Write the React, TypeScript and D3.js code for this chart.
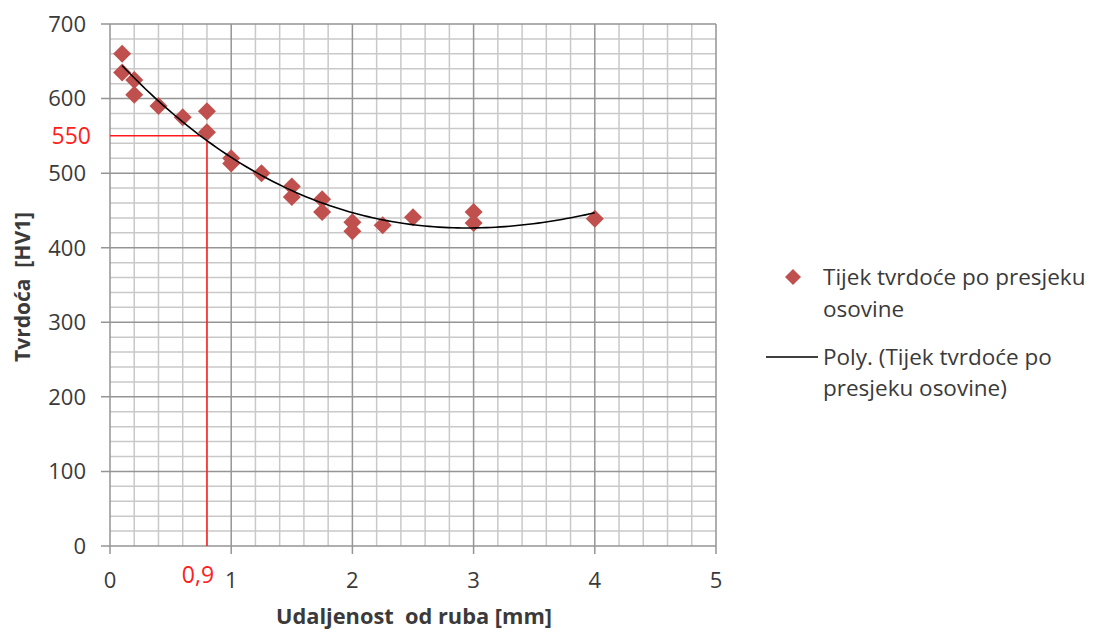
import React from "react";
import * as d3 from "d3";

// ---- data ----
const distance = [0.1, 0.1, 0.2, 0.2, 0.4, 0.6, 0.8, 0.8, 1.0, 1.0, 1.25, 1.5, 1.5, 1.75, 1.75, 2.0, 2.0, 2.25, 2.5, 3.0, 3.0, 4.0];
const hardness = [660, 635, 625, 605, 590, 575, 583, 555, 520, 513, 500, 482, 468, 465, 448, 434, 422, 430, 441, 448, 433, 439];
const xTicks = [0, 1, 2, 3, 4, 5];
const yTicks = [0, 100, 200, 300, 400, 500, 600, 700];
const annotX = 0.8;
const annotY = 550;
const annotXLabel = "0,9";
const annotYLabel = "550";
const seriesName = ["Tijek tvrdoće po presjeku", "osovine"];
const trendName = ["Poly. (Tijek tvrdoće po", "presjeku osovine)"];
const xTitle = "Udaljenost  od ruba [mm]";
const yTitle = "Tvrdoća  [HV1]";

// least-squares polynomial fit (order 3), like Excel's trendline
function polyFit(xs: number[], ys: number[], order: number): number[] {
  const n = order + 1;
  const A: number[][] = [];
  for (let i = 0; i < n; i++) {
    const row: number[] = [];
    for (let j = 0; j < n; j++) row.push(d3.sum(xs, (x) => Math.pow(x, i + j)));
    row.push(d3.sum(xs, (x, k) => Math.pow(x, i) * ys[k]));
    A.push(row);
  }
  for (let c = 0; c < n; c++) {
    let p = c;
    for (let r = c + 1; r < n; r++) if (Math.abs(A[r][c]) > Math.abs(A[p][c])) p = r;
    [A[c], A[p]] = [A[p], A[c]];
    for (let r = 0; r < n; r++) {
      if (r === c) continue;
      const f = A[r][c] / A[c][c];
      for (let k = c; k <= n; k++) A[r][k] -= f * A[c][k];
    }
  }
  return A.map((row, i) => row[n] / row[i]);
}

const W = 1099;
const H = 633;
const left = 110, right = 716, top = 24, bottom = 546;
const textColor = "#3a3a3a";
const font = "'Open Sans', sans-serif";

export default function App() {
  const x = d3.scaleLinear().domain([0, 5]).range([left, right]);
  const y = d3.scaleLinear().domain([0, 700]).range([bottom, top]);
  const coef = polyFit(distance, hardness, 3);
  const f = (v: number) => coef.reduce((s, c, i) => s + c * Math.pow(v, i), 0);
  const [x0, x1] = d3.extent(distance) as [number, number];
  const samples = d3.range(0, 101).map((i) => x0 + ((x1 - x0) * i) / 100);
  const line = d3.line<number>().x((v) => x(v)).y((v) => y(f(v)));

  const minorX = d3.range(0, 5.0001, 0.2).filter((v) => Math.abs(v - Math.round(v)) > 1e-6);
  const minorY = d3.range(0, 700.001, 20).filter((v) => v % 100 !== 0);
  const diamondPath = (s: number) => `M0,${-s}L${s},0L0,${s}L${-s},0Z`;

  return (
    <svg width={W} height={H} style={{ position: "absolute", left: 0, top: 0, background: "#fff" }} fontFamily={font}>
      <rect width={W} height={H} fill="#fff" />
      {/* minor grid */}
      {minorX.map((v) => (
        <line key={"mx" + v} x1={x(v)} x2={x(v)} y1={top} y2={bottom} stroke="#c9c9c9" strokeWidth={1.5} />
      ))}
      {minorY.map((v) => (
        <line key={"my" + v} x1={left} x2={right} y1={y(v)} y2={y(v)} stroke="#c9c9c9" strokeWidth={1.5} />
      ))}
      {/* major grid */}
      {xTicks.map((v) => (
        <line key={"gx" + v} x1={x(v)} x2={x(v)} y1={top} y2={bottom + 8} stroke="#959595" strokeWidth={1.5} />
      ))}
      {yTicks.map((v) => (
        <line key={"gy" + v} x1={left - 9} x2={right} y1={y(v)} y2={y(v)} stroke="#959595" strokeWidth={1.5} />
      ))}
      {/* annotation */}
      <line x1={x(0)} x2={x(annotX)} y1={y(annotY)} y2={y(annotY)} stroke="#ff1a1a" strokeWidth={1.5} />
      <line x1={x(annotX)} x2={x(annotX)} y1={y(annotY)} y2={y(0)} stroke="#ff1a1a" strokeWidth={1.5} />
      {/* points */}
      {distance.map((d, i) => (
        <path key={"p" + i} d={diamondPath(9)} transform={`translate(${x(d)},${y(hardness[i])})`} fill="#c0504d" />
      ))}
      {/* trendline */}
      <path d={line(samples) || ""} fill="none" stroke="#000" strokeWidth={1.6} />
      {/* tick labels */}
      {yTicks.map((v) => (
        <text key={"yl" + v} x={86} y={y(v)} dy="0.36em" textAnchor="end" fontSize={22} fill={textColor}>{v}</text>
      ))}
      {xTicks.map((v) => (
        <text key={"xl" + v} x={x(v)} y={580} dy="0.36em" textAnchor="middle" fontSize={22} fill={textColor}>{v}</text>
      ))}
      <text x={91} y={y(annotY)} dy="0.36em" textAnchor="end" fontSize={23} fill="#ff2020">{annotYLabel}</text>
      <text x={x(annotX) - 9} y={575} dy="0.36em" textAnchor="middle" fontSize={23} fill="#ff2020">{annotXLabel}</text>
      {/* axis titles */}
      <text x={414} y={616} dy="0.36em" textAnchor="middle" fontSize={21.8} fontWeight="bold" fill={textColor} style={{ whiteSpace: "pre" }}>{xTitle}</text>
      <text transform={`translate(22,${287}) rotate(-90)`} dy="0.36em" textAnchor="middle" fontSize={21} fontWeight="bold" fill={textColor} style={{ whiteSpace: "pre" }}>{yTitle}</text>
      {/* legend */}
      <path d={diamondPath(8)} transform="translate(793,277)" fill="#c0504d" />
      {seriesName.map((t, i) => (
        <text key={"ls" + i} x={823} y={277 + i * 32} dy="0.36em" fontSize={22.5} fill={textColor}>{t}</text>
      ))}
      <line x1={766} x2={818} y1={357} y2={357} stroke="#000" strokeWidth={1.6} />
      {trendName.map((t, i) => (
        <text key={"lt" + i} x={823} y={357 + i * 31} dy="0.36em" fontSize={22.5} fill={textColor}>{t}</text>
      ))}
    </svg>
  );
}
